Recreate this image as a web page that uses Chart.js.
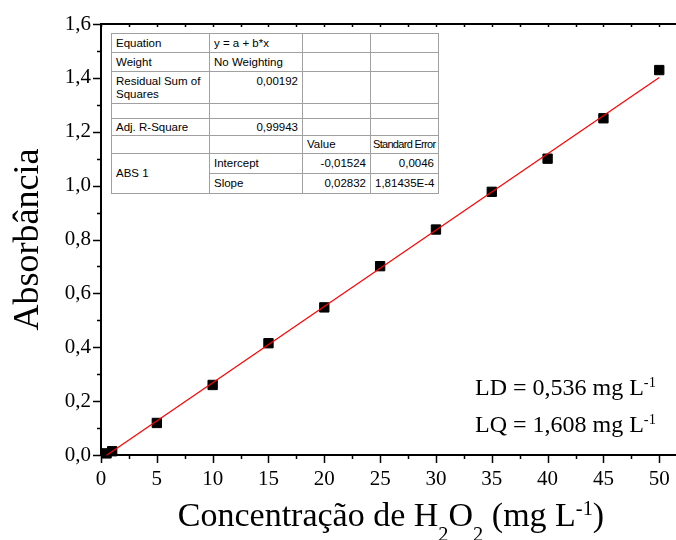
<!DOCTYPE html>
<html>
<head>
<meta charset="utf-8">
<script src="https://cdn.jsdelivr.net/npm/chart.js@4.4.1/dist/chart.umd.min.js"></script>
<style>
  body { margin: 0; background: #fff; }
  #wrap { position: relative; width: 676px; height: 540px; overflow: hidden; }
  #chart { position: absolute; left: 0; top: 0; }
  .serif { position: absolute; white-space: nowrap; color: #000;
           font-family: "Liberation Serif", "Times New Roman", serif; }
  .sub { font-size: 0.6em; vertical-align: -0.75em; line-height: 0; }
  .sup { font-size: 0.6em; vertical-align: 0.55em; line-height: 0; }
  table.fit { position: absolute; left: 111px; top: 33px; width: 327px; border-collapse: collapse;
              font-family: "Liberation Sans", Arial, sans-serif; font-size: 11.5px;
              color: #000; background: #fff; border: 1px solid #000; table-layout: fixed; }
  table.fit td { border: 1px solid #a0a0a0; padding: 0 4px; vertical-align: middle;
                 line-height: 13px; overflow: hidden; white-space: nowrap; }
  table.fit td.r { text-align: right; }
  table.fit td.t { vertical-align: top; padding-top: 3px; }
  table.fit td.se { font-size: 11px; letter-spacing: -0.7px; padding: 0 0 0 2px; }
</style>
</head>
<body>
<div id="wrap">
  <canvas id="chart" width="676" height="540"></canvas>

  <table class="fit">
    <colgroup><col style="width:98px"><col style="width:93px"><col style="width:68px"><col style="width:68px"></colgroup>
    <tr style="height:19px"><td>Equation</td><td>y = a + b*x</td><td></td><td></td></tr>
    <tr style="height:19px"><td>Weight</td><td>No Weighting</td><td></td><td></td></tr>
    <tr style="height:32px"><td class="t" style="white-space:normal">Residual Sum of Squares</td><td class="r t">0,00192</td><td></td><td></td></tr>
    <tr style="height:15px"><td></td><td></td><td></td><td></td></tr>
    <tr style="height:17px"><td>Adj. R-Square</td><td class="r">0,99943</td><td></td><td></td></tr>
    <tr style="height:18px"><td></td><td></td><td>Value</td><td class="se">Standard Error</td></tr>
    <tr style="height:20px"><td rowspan="2">ABS 1</td><td>Intercept</td><td class="r">-0,01524</td><td class="r">0,0046</td></tr>
    <tr style="height:20px"><td>Slope</td><td class="r">0,02832</td><td class="r">1,81435E-4</td></tr>
  </table>

  <div class="serif" style="left:475px; top:374px; font-size:24px; line-height:27px;">LD = 0,536 mg L<span class="sup">-1</span></div>
  <div class="serif" style="left:475px; top:411px; font-size:24px; line-height:27px;">LQ = 1,608 mg L<span class="sup">-1</span></div>

  <div class="serif" style="left:0; width:782px; text-align:center; top:498px; font-size:34px; line-height:34px;">Concentração de H<span class="sub">2</span>O<span class="sub">2</span> (mg L<span class="sup">-1</span>)</div>
</div>

<script>
// calibration points
const concX = [0.5, 1, 5, 10, 15, 20, 25, 30, 35, 40, 45, 50];
const absY = [0.006, 0.014, 0.119, 0.260, 0.415, 0.548, 0.701, 0.837, 0.977, 1.100, 1.250, 1.429];

// linear fit end points
const fitX = [0.5, 50];
const fitY = [-0.001, 1.401];

const xTicks = [0, 5, 10, 15, 20, 25, 30, 35, 40, 45, 50];
const yTicks = [0, 0.2, 0.4, 0.6, 0.8, 1.0, 1.2, 1.4, 1.6];

const serif = '"Liberation Serif", "Times New Roman", serif';

// the original plot runs off the right edge of the picture
const fullWidth = {
    id: 'fullWidth',
    afterLayout(chart) {
        const x = chart.scales.x;
        const a = chart.chartArea;
        x.right = chart.width;
        x.width = x.right - x.left;
        a.right = chart.width;
        a.width = a.right - a.left;
        x.configure();
    }
};

// origin style ticks: major + minor outside, small ones inside the top edge
const axisTicks = {
    id: 'axisTicks',
    afterDraw(chart) {
        const { ctx, chartArea: a, scales: { x, y } } = chart;
        ctx.save();
        ctx.strokeStyle = '#000';
        ctx.lineWidth = 2;
        ctx.beginPath();
        ctx.moveTo(a.left - 1, a.top);
        ctx.lineTo(chart.width, a.top);
        ctx.stroke();

        ctx.lineWidth = 1.5;
        ctx.beginPath();
        xTicks.forEach(v => {
            const px = Math.round(x.getPixelForValue(v)) + 0.5;
            ctx.moveTo(px, a.bottom); ctx.lineTo(px, a.bottom + 8);
            ctx.moveTo(px, a.top); ctx.lineTo(px, a.top + 3);
            const mx = Math.round(x.getPixelForValue(v + 2.5)) + 0.5;
            if (mx < chart.width) {
                ctx.moveTo(mx, a.bottom); ctx.lineTo(mx, a.bottom + 4);
                ctx.moveTo(mx, a.top); ctx.lineTo(mx, a.top + 3);
            }
        });
        yTicks.forEach((v, i) => {
            const py = Math.round(y.getPixelForValue(v)) + 0.5;
            ctx.moveTo(a.left, py); ctx.lineTo(a.left - 8, py);
            if (i < yTicks.length - 1) {
                const my = Math.round(y.getPixelForValue(v + 0.1)) + 0.5;
                ctx.moveTo(a.left, my); ctx.lineTo(a.left - 4, my);
            }
        });
        ctx.stroke();
        ctx.restore();
    }
};

const ctx = document.getElementById('chart').getContext('2d');
const myChart = new Chart(ctx, {
    type: 'scatter',
    data: {
        datasets: [
            {
                label: 'fit',
                data: fitX.map((v, i) => ({ x: v, y: fitY[i] })),
                showLine: true,
                borderColor: '#ff0000',
                borderWidth: 1.2,
                pointRadius: 0,
                clip: false
            },
            {
                label: 'ABS 1',
                data: concX.map((v, i) => ({ x: v, y: absY[i] })),
                pointStyle: 'rect',
                pointRadius: 6.6,
                backgroundColor: '#000',
                borderColor: '#000',
                borderWidth: 1,
                clip: false
            }
        ]
    },
    options: {
        responsive: false,
        animation: false,
        layout: { padding: { top: 24, right: 0, left: 0, bottom: 0 } },
        plugins: { legend: { display: false }, tooltip: { enabled: false } },
        scales: {
            x: {
                type: 'linear',
                min: 0,
                max: 51.5,
                afterBuildTicks: s => { s.ticks = xTicks.map(v => ({ value: v })); },
                afterFit: s => { s.height = 85; },
                // invisible tick marks keep the label gap
                grid: { drawOnChartArea: false, drawTicks: true, tickLength: 12, tickColor: 'rgba(0,0,0,0)' },
                border: { color: '#000', width: 2 },
                ticks: {
                    color: '#000',
                    padding: 0,
                    maxRotation: 0,
                    font: { family: serif, size: 21 }
                }
            },
            y: {
                min: 0,
                max: 1.6,
                afterBuildTicks: s => { s.ticks = yTicks.map(v => ({ value: v })); },
                afterFit: s => { s.width = 101; },
                grid: { drawOnChartArea: false, drawTicks: false },
                border: { color: '#000', width: 2 },
                ticks: {
                    color: '#000',
                    padding: 10,
                    font: { family: serif, size: 21 },
                    callback: v => v.toFixed(1).replace('.', ',')
                },
                title: {
                    display: true,
                    text: 'Absorbância',
                    color: '#000',
                    padding: { top: 7, bottom: 0 },
                    font: { family: serif, size: 36 }
                }
            }
        }
    },
    plugins: [fullWidth, axisTicks]
});
</script>
</body>
</html>
